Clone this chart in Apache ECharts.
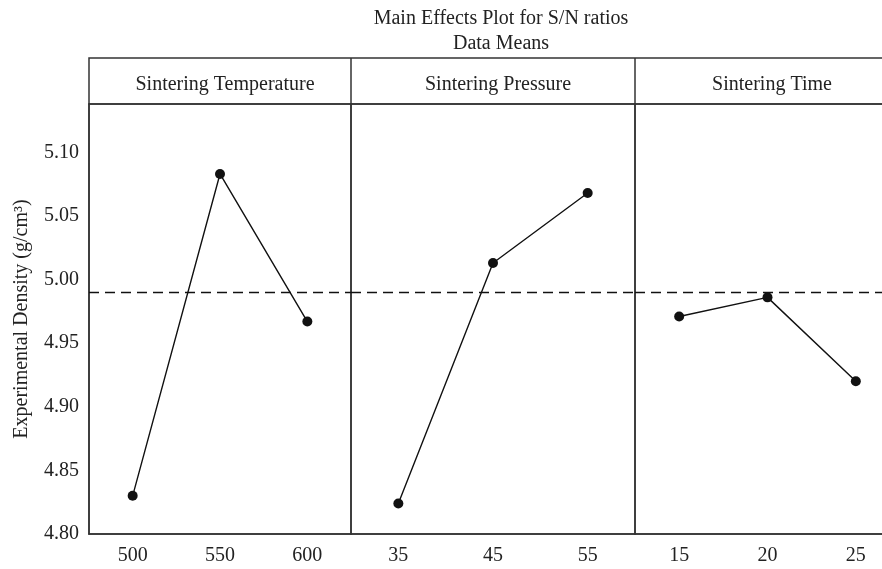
<!DOCTYPE html>
<html>
<head>
<meta charset="utf-8">
<script src="https://cdn.jsdelivr.net/npm/echarts@6/dist/echarts.min.js"></script>
<style>html,body{margin:0;padding:0;background:#fff;overflow:hidden}#c{width:900px;height:569px}</style>
</head>
<body>
<div id="c"></div>
<script>
const panelNames = ["Sintering Temperature", "Sintering Pressure", "Sintering Time"];
const tempLevels = ["500", "550", "600"];
const pressureLevels = ["35", "45", "55"];
const timeLevels = ["15", "20", "25"];
const tempValues = [4.830, 5.083, 4.967];
const pressureValues = [4.824, 5.013, 5.068];
const timeValues = [4.971, 4.986, 4.920];
const overallMean = 4.988;
const yMin = 4.80, yMax = 5.138, yStep = 0.05;
const yTitle = "Experimental Density (g/cm³)";
const mainTitle = "Main Effects Plot for S/N ratios";
const subTitle = "Data Means";

const FONT = "Liberation Serif";
const ink = "#222";
const frame = "#333";

const levels = [tempLevels, pressureLevels, timeLevels];
const values = [tempValues, pressureValues, timeValues];
const lefts = [89, 351, 635];
const rights = [549, 265, 0];
const centers = [220, 493, 767];
const gridTop = 104, gridBottom = 35;

const grids = [], xAxes = [], yAxes = [], series = [], titles = [];
for (let i = 0; i < 3; i++) {
  grids.push({left: lefts[i], right: rights[i], top: gridTop, bottom: gridBottom, show: true,
    borderColor: frame, borderWidth: 1.5, containLabel: false});
  xAxes.push({type: 'category', gridIndex: i, data: levels[i], boundaryGap: true,
    axisLine: {show: true, lineStyle: {color: frame, width: 1.5}},
    axisTick: {show: false},
    axisLabel: {color: ink, fontFamily: FONT, fontSize: 20, margin: 12},
    splitLine: {show: false}});
  yAxes.push({type: 'value', gridIndex: i, min: yMin, max: yMax, interval: yStep,
    name: i === 0 ? yTitle : '', nameLocation: 'middle', nameGap: 57,
    nameTextStyle: {color: ink, fontFamily: FONT, fontSize: 20},
    axisLine: {show: i === 0, lineStyle: {color: frame, width: 1.5}},
    axisTick: {show: false},
    axisLabel: {show: i === 0, color: ink, fontFamily: FONT, fontSize: 20, margin: 10,
      showMaxLabel: false, formatter: v => v.toFixed(2)},
    splitLine: {show: false}});
  series.push({type: 'line', xAxisIndex: i, yAxisIndex: i, data: values[i],
    symbol: 'circle', symbolSize: 10,
    itemStyle: {color: '#111'}, lineStyle: {color: '#111', width: 1.4},
    markLine: {silent: true, symbol: ['none', 'none'], label: {show: false},
      lineStyle: {color: '#111', type: [10, 6], width: 1.3},
      data: [{yAxis: overallMean}]}});
  titles.push({text: panelNames[i], left: centers[i], top: 70, textAlign: 'center',
    textStyle: {color: ink, fontFamily: FONT, fontSize: 20, fontWeight: 'normal'}});
}
titles.push({text: mainTitle, left: 496, top: 4, textAlign: 'center',
  textStyle: {color: ink, fontFamily: FONT, fontSize: 20, fontWeight: 'normal'}});
titles.push({text: subTitle, left: 496, top: 29, textAlign: 'center',
  textStyle: {color: ink, fontFamily: FONT, fontSize: 20, fontWeight: 'normal'}});

const chart = echarts.init(document.getElementById('c'), null, {renderer: 'canvas'});
chart.setOption({
  animation: false,
  backgroundColor: '#fff',
  title: titles,
  grid: grids, xAxis: xAxes, yAxis: yAxes, series: series,
  graphic: [
    {type: 'rect', shape: {x: 89, y: 58, width: 811, height: 46},
      style: {fill: 'none', stroke: frame, lineWidth: 1.5}},
    {type: 'line', shape: {x1: 351, y1: 58, x2: 351, y2: 104}, style: {stroke: frame, lineWidth: 1.5}},
    {type: 'line', shape: {x1: 635, y1: 58, x2: 635, y2: 104}, style: {stroke: frame, lineWidth: 1.5}}
  ]
});
</script>
</body>
</html>
